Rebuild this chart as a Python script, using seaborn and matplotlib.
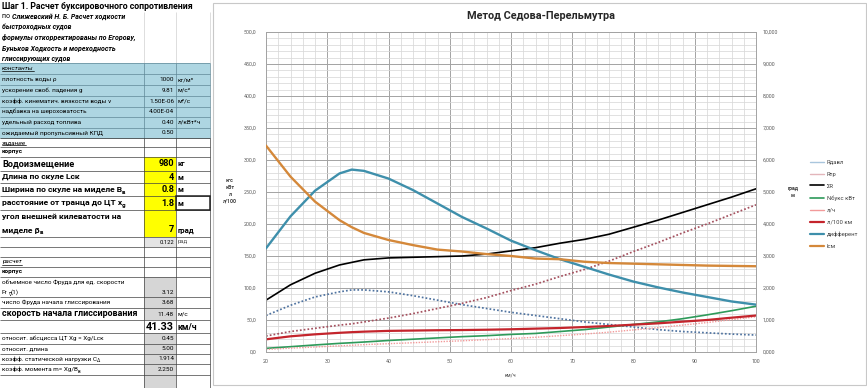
import matplotlib
matplotlib.use("Agg")
import matplotlib.pyplot as plt
import seaborn as sns
import pandas as pd
from matplotlib.patches import Rectangle
from matplotlib.lines import Line2D
from matplotlib.ticker import MultipleLocator, FuncFormatter

# ---------------- data ----------------
speed_kmh = [20, 24, 28, 32, 34, 36, 40, 44, 48, 52, 56, 60, 64, 68, 72, 76, 80, 84, 88, 92, 96, 100]
r_davl = [57, 73, 86, 94, 97, 97, 94, 88, 81, 74, 68, 62, 57, 52, 47, 43, 39, 35, 32, 30, 28, 26.5]
r_tr = [25, 32, 37, 42, 44, 47, 53, 60, 68, 76, 85, 96, 106, 118, 129, 142, 157, 171, 186, 200, 215, 230]
r_sum = [81, 105, 123, 136, 140, 144, 147, 148, 149, 150, 153, 158, 163, 170, 176, 184, 195, 206, 218, 230, 242, 255]
n_tow_kw = [5.7, 8.3, 11, 13.5, 14.5, 15.6, 18, 20, 22, 24, 25.5, 27.5, 29, 32, 35, 39, 43, 47, 52, 58, 64.5, 71.5]
fuel_lph = [4, 6, 7.8, 9.6, 10.5, 11.5, 13, 14.5, 16, 17.5, 19.3, 21, 23, 25.5, 28, 31, 34.5, 38, 42, 46, 50.5, 55]
fuel_l100 = [19.8, 24.5, 27.6, 30, 31, 31.8, 33, 33.5, 34, 34.3, 34.8, 35.5, 36.5, 37.5, 39, 40.6, 42.7, 44.8, 47.4, 50, 53.6, 57]
trim_deg = [3.24, 4.24, 5.04, 5.58, 5.70, 5.66, 5.42, 5.06, 4.64, 4.22, 3.86, 3.48, 3.18, 2.90, 2.66, 2.42, 2.20, 2.02, 1.86, 1.72, 1.58, 1.48]
wet_len_m = [6.45, 5.48, 4.70, 4.12, 3.90, 3.72, 3.50, 3.34, 3.20, 3.14, 3.06, 3.00, 2.92, 2.90, 2.82, 2.78, 2.76, 2.74, 2.72, 2.70, 2.69, 2.68]

series_labels = ["Rдавл", "Rтр", "ΣR", "Nбукс кВт", "л/ч", "л/100 км", "дифферент", "lсм"]
chart_title = "Метод Седова-Перельмутра"
x_label = "км/ч"
left_axis_label = "кгс\nкВт\nл\nл/100"
right_axis_label = "град\nм"

# spreadsheet texts
sheet_title = "Шаг 1. Расчет буксировочного сопротивления"
source_lines = ["Слижевский Н. Б. Расчет ходкости", "быстроходных судов",
                "формулы откорректированы по Егорову,", "Буньков Ходкость и мореходность",
                "глиссирующих судов"]
const_labels = ["плотность воды ρ", "ускорение своб. падения g", "коэфф. кинематич. вязкости воды ν",
                "надбавка на шероховатость", "удельный расход топлива", "ожидаемый пропульсивный КПД"]
const_values = ["1000", "9.81", "1.50E-06", "4.00E-04", "0.40", "0.50"]
const_units = ["кг/м³", "м/с²", "м²/с", "", "л/кВт*ч", ""]
calc_labels = ["число Фруда начала глиссирования", "скорость начала глиссирования", "",
               "относит. абсцисса ЦТ Xg = Xg/Lск", "относит. длина"]
calc_values = ["3.68", "11.48", "41.33", "0.45", "5.00"]

df = pd.DataFrame({"speed": speed_kmh, "Rdavl": r_davl, "Rtr": r_tr, "Rsum": r_sum,
                   "N": n_tow_kw, "lph": fuel_lph, "l100": fuel_l100,
                   "trim": trim_deg, "lsm": wet_len_m})

sns.set_theme(style="white")
FONT = ["Roboto", "DejaVu Sans"]
plt.rcParams["font.family"] = FONT

W, H = 867, 388
fig = plt.figure(figsize=(W / 100, H / 100), dpi=100)
fig.patch.set_facecolor("white")
bg = fig.add_axes([0, 0, 1, 1], zorder=0)
bg.set_xlim(0, W)
bg.set_ylim(H, 0)
bg.axis("off")
renderer = fig.canvas.get_renderer()

C0, C1, C2, C3 = 0, 144, 176, 210
BLUE = "#aed6e2"
YEL = "#ffff00"
GREY = "#d6d6d6"


def rect(x0, y0, x1, y1, fc, ec="none", lw=0.5, z=1):
    bg.add_patch(Rectangle((x0, y0), x1 - x0, y1 - y0, facecolor=fc, edgecolor=ec, lw=lw, zorder=z))


def hline(y, x0=C0, x1=C3, c="#404040", lw=0.5):
    bg.plot([x0, x1], [y, y], color=c, lw=lw, zorder=2, solid_capstyle="butt")


def vline(x, y0, y1, c="#404040", lw=0.5):
    bg.plot([x, x], [y0, y1], color=c, lw=lw, zorder=2, solid_capstyle="butt")


def rich(x, y, parts, size, color="black", underline=False):
    cur = x
    for txt_, o in parts:
        sub = o.get("sub", False)
        s = size * 0.72 if sub else size
        dy = size * 1.389 * 0.3 if sub else 0
        t = bg.text(cur, y + dy, txt_, fontsize=s, fontweight=o.get("w", "normal"),
                    fontstyle=o.get("s", "normal"), color=color, va="center", ha="left", zorder=5)
        bb = t.get_window_extent(renderer=renderer)
        if underline:
            yy = H - bb.y0 + 0.3
            bg.plot([bb.x0, bb.x1], [yy, yy], color=color, lw=0.5, zorder=5)
        cur += bb.width
    return cur


def txt(x, y, s, size, w="normal", st="normal", ha="left", color="black"):
    bg.text(x, y, s, fontsize=size, fontweight=w, fontstyle=st, ha=ha, va="center", color=color, zorder=5)


SMALL = 4.6
BIG = 6.1
SRC = 5.0

# --- header section ---
for xv in (C1, C2, C3):
    vline(xv, 12, 63, c="#d0d0d0")
txt(1.5, 6.5, sheet_title, 6.3, w="bold")
rich(2, 17, [("по ", {}), (source_lines[0], {"w": "bold", "s": "italic"})], SRC)
for i, line in enumerate(source_lines[1:]):
    txt(2, [27, 37.5, 48, 58][i], line, SRC, w="bold", st="italic")

# --- constants (blue) ---
b_rows = [63, 74, 85, 96, 106.5, 117, 128, 138]
rect(C0, 63, C3, 138, BLUE)
for yb in b_rows:
    hline(yb, c="#5f8796")
for xv in (C1, C2, C3):
    vline(xv, 63, 138, c="#5f8796")
rich(2, 68.5, [("константы", {"s": "italic"})], SMALL, underline=True)
for i in range(6):
    yc = (b_rows[i + 1] + b_rows[i + 2]) / 2
    txt(2, yc, const_labels[i], SMALL)
    txt(174, yc, const_values[i], SMALL, ha="right")
    txt(178, yc, const_units[i], SMALL)

# --- task section ---
c_rows = [138, 147, 157, 171, 183, 196, 210, 237, 247, 257, 267, 277, 297, 308, 320, 333, 344, 354, 364, 375, 388]
rect(C1, 157, C2, 237, YEL)
rect(C1, 237, C2, 247, "#e4e4e4")
rect(C1, 277, C2, 320, GREY)
rect(C1, 333, C2, 388, GREY)
for yb in c_rows:
    hline(yb)
for xv in (C1, C2, C3):
    vline(xv, 138, 388)
rich(2, 142.5, [("задание", {"s": "italic"})], SMALL, underline=True)
txt(2, 152, "корпус", SMALL, w="bold")
txt(2, 164, "Водоизмещение", 6.6, w="bold")
txt(174, 164, "980", 6.6, w="bold", ha="right")
txt(178, 164, "кг", 5.6, w="bold")
txt(2, 177, "Длина по скуле Lск", BIG, w="bold")
txt(174, 177, "4", 6.6, w="bold", ha="right")
txt(178, 177, "м", 5.6, w="bold")
rich(2, 189.5, [("Ширина по скуле на миделе B", {"w": "bold"}), ("в", {"w": "bold", "sub": True})], BIG)
txt(174, 189.5, "0.8", 6.6, w="bold", ha="right")
txt(178, 189.5, "м", 5.6, w="bold")
rich(2, 203, [("расстояние от транца до ЦТ x", {"w": "bold"}), ("g", {"w": "bold", "sub": True})], BIG)
txt(174, 203, "1.8", 6.6, w="bold", ha="right")
txt(178, 203, "м", 5.6, w="bold")
rect(C2, 196, C3, 210, "none", ec="#222222", lw=1.1, z=3)
txt(2, 216.5, "угол внешней килеватости на", BIG, w="bold")
rich(2, 230, [("миделе β", {"w": "bold"}), ("в", {"w": "bold", "sub": True})], BIG)
txt(174, 230, "7", 6.6, w="bold", ha="right")
txt(178, 230, "град", 5.6, w="bold")
txt(174, 242, "0.122", 4.2, ha="right")
txt(178, 242, "рад", 4.2, color="#555555")

# --- calculation section ---
rich(2, 262, [("расчет", {"s": "italic"})], SMALL, underline=True)
txt(2, 272, "корпус", SMALL, w="bold")
txt(2, 282, "объемное число Фруда для ед. скорости", SMALL)
rich(2, 292, [("Fr", {}), ("∇", {"sub": True}), ("(1)", {})], SMALL)
txt(174, 292, "3.12", SMALL, ha="right")
txt(2, 302.5, calc_labels[0], SMALL)
txt(174, 302.5, calc_values[0], SMALL, ha="right")
txt(2, 314, calc_labels[1], 6.4, w="bold")
txt(174, 314, calc_values[1], SMALL, ha="right")
txt(178, 314, "м/с", SMALL)
txt(174, 327, calc_values[2], 7.8, w="bold", ha="right")
txt(178, 327, "км/ч", 6.3, w="bold")
txt(2, 338.5, calc_labels[3], SMALL)
txt(174, 338.5, calc_values[3], SMALL, ha="right")
txt(2, 349, calc_labels[4], SMALL)
txt(174, 349, calc_values[4], SMALL, ha="right")
rich(2, 359, [("коэфф. статической нагрузки C", {}), ("Δ", {"sub": True})], SMALL)
txt(174, 359, "1.914", SMALL, ha="right")
rich(2, 369.5, [("коэфф. момента m= Xg/B", {}), ("в", {"sub": True})], SMALL)
txt(174, 369.5, "2.250", SMALL, ha="right")

# chart area border
rect(213, 3, 866, 385, "none", ec="#c8c8c8", lw=0.8, z=1)

# ---------------- chart ----------------
ax = fig.add_axes([266 / W, (H - 352) / H, 490 / W, 320 / H], zorder=2)
ax.set_facecolor("none")
left_specs = [
    ("Rdavl", "#4f73a0", (0, (1, 1.2)), 1.25),
    ("Rtr", "#a4505e", (0, (1, 1.2)), 1.25),
    ("Rsum", "#000000", "-", 1.2),
    ("N", "#2e9a5a", "-", 1.2),
    ("lph", "#f29a9a", (0, (1, 1.0)), 1.0),
    ("l100", "#c4242c", "-", 1.6),
]
right_specs = [
    ("trim", "#3e8fab", "-", 1.7),
    ("lsm", "#d4883a", "-", 1.7),
]
for col, c, ls, lw in left_specs:
    sns.lineplot(data=df, x="speed", y=col, ax=ax, color=c, linestyle=ls, linewidth=lw, legend=False)

ax.set_xlim(20, 100)
ax.set_ylim(0, 500)
ax.xaxis.set_major_locator(MultipleLocator(10))
ax.xaxis.set_minor_locator(MultipleLocator(2))
ax.yaxis.set_major_locator(MultipleLocator(50))
ax.yaxis.set_minor_locator(MultipleLocator(10))
ax.grid(which="minor", color="#d9d9d9", lw=0.55)
ax.grid(which="major", color="#a3a3a3", lw=0.7)
ax.set_axisbelow(True)
ax.yaxis.set_major_formatter(FuncFormatter(lambda v, p: f"{v:.1f}".replace(".", ",")))
ax.xaxis.set_major_formatter(FuncFormatter(lambda v, p: f"{v:.0f}"))
ax.tick_params(which="both", length=0)
ax.tick_params(axis="y", labelsize=3.8, labelcolor="#595959", pad=7)
ax.tick_params(axis="x", labelsize=3.8, labelcolor="#595959", pad=5)
ax.set_xlabel("")
ax.set_ylabel("")
for s in ax.spines.values():
    s.set_color("#a3a3a3")
    s.set_linewidth(0.7)

ax2 = ax.twinx()
ax2.set_zorder(3)
for col, c, ls, lw in right_specs:
    sns.lineplot(data=df, x="speed", y=col, ax=ax2, color=c, linestyle=ls, linewidth=lw, legend=False)
ax2.set_ylim(0, 10)
ax2.yaxis.set_major_locator(MultipleLocator(1))
ax2.yaxis.set_major_formatter(FuncFormatter(lambda v, p: f"{v:.3f}".replace(".", ",")))
ax2.tick_params(which="both", length=0)
ax2.tick_params(axis="y", labelsize=3.8, labelcolor="#595959", pad=5)
ax2.set_ylabel("")
ax2.grid(False)
for s in ax2.spines.values():
    s.set_visible(False)

# texts on chart
txt(541, 16, chart_title, 7.8, w="bold", ha="center", color="#262626")
bg.text(230, 191, left_axis_label, fontsize=3.8, fontweight="bold", ha="center", va="center",
        color="#404040", linespacing=1.45, zorder=5)
bg.text(793, 192, right_axis_label, fontsize=3.8, fontweight="bold", ha="center", va="center",
        color="#404040", linespacing=1.45, zorder=5)
txt(510, 375, x_label, 3.8, ha="center", color="#404040")

# legend
handles = []
leg_colors = ["#a9c6dd", "#e3b6bb", "#000000", "#2e9a5a", "#f29a9a", "#c4242c", "#3e8fab", "#d4883a"]
leg_lw = [1.0, 1.0, 1.2, 1.2, 1.0, 1.6, 1.6, 1.6]
for c, lw in zip(leg_colors, leg_lw):
    handles.append(Line2D([0], [0], color=c, lw=lw))
fig.legend(handles, series_labels, loc="upper left", bbox_to_anchor=(810 / W, 1 - 159.5 / H),
           frameon=False, fontsize=4.2, handlelength=2.4, handletextpad=0.5, labelspacing=1.18,
           labelcolor="#404040", borderpad=0, borderaxespad=0)

fig.savefig("out.png", dpi=100, facecolor="white")
